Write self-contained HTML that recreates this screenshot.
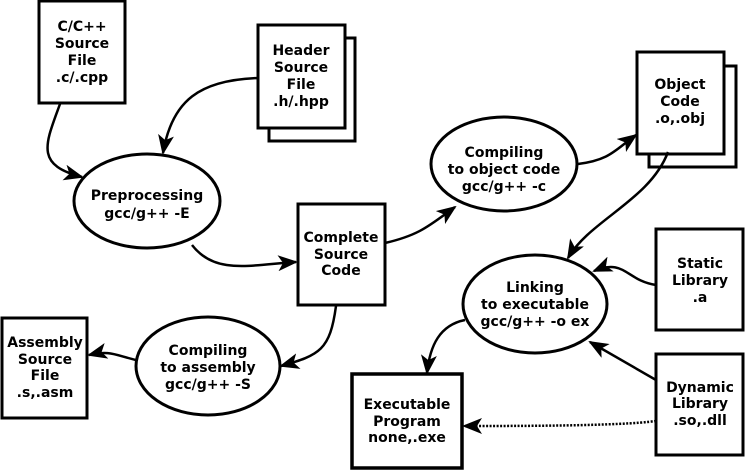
<!DOCTYPE html>
<html><head><meta charset="utf-8"><style>
html,body{margin:0;padding:0;background:#fff;}
svg{display:block;}
text{font-family:"DejaVu Sans","Liberation Sans",sans-serif;font-weight:bold;font-size:14px;text-anchor:middle;dominant-baseline:central;fill:#000;}
</style></head><body>
<svg width="745" height="470" viewBox="0 0 745 470" xmlns="http://www.w3.org/2000/svg">
<defs>
<marker id="a" viewBox="0 0 20 16" refX="18" refY="8" markerWidth="20" markerHeight="16" markerUnits="userSpaceOnUse" orient="auto">
<path d="M0,0 L20,8 L0,16 L5,8 Z" fill="#000"/>
</marker>
</defs>
<g fill="#fff" stroke="#000" stroke-width="3">
<rect x="39" y="1" width="86" height="102"/>
<rect x="269" y="38" width="86" height="103"/>
<rect x="258" y="25" width="87" height="103"/>
<ellipse cx="147" cy="201" rx="73" ry="47"/>
<rect x="298" y="204" width="87" height="101"/>
<ellipse cx="504" cy="164" rx="73" ry="47"/>
<rect x="649" y="66" width="87" height="101"/>
<rect x="637" y="52" width="87" height="102"/>
<ellipse cx="535" cy="304" rx="72" ry="49"/>
<rect x="656" y="229" width="87" height="101"/>
<rect x="656" y="354" width="87" height="101"/>
<rect x="352" y="374" width="110" height="94" stroke-width="3.5"/>
<ellipse cx="208" cy="366" rx="72" ry="49"/>
<rect x="2" y="318" width="85" height="100"/>
</g>
<g fill="none" stroke="#000" stroke-width="2.5">
<path d="M60,104 C45,145 35,165 82,177" marker-end="url(#a)"/>
<path d="M258,78 C200,80 172,100 163,153" marker-end="url(#a)"/>
<path d="M192,245 C215,275 250,265 296,262" marker-end="url(#a)"/>
<path d="M385,243 C420,235 430,225 455,207" marker-end="url(#a)"/>
<path d="M578,164 C610,160 615,150 636,135" marker-end="url(#a)"/>
<path d="M668,152 C650,200 590,220 568,258" marker-end="url(#a)"/>
<path d="M656,285 C625,280 625,258 594,271" marker-end="url(#a)"/>
<path d="M656,380 L590,342" marker-end="url(#a)"/>
<path d="M465,320 C440,325 430,345 427,373" marker-end="url(#a)"/>
<path d="M656,421 C620,426 520,426 464,426" stroke-dasharray="2,1.5" marker-end="url(#a)"/>
<path d="M336,306 C330,350 320,355 281,366" marker-end="url(#a)"/>
<path d="M136,360 C115,355 110,350 89,355" marker-end="url(#a)"/>
</g>
<text x="82" y="27">C/C++</text><text x="82" y="44">Source</text><text x="82" y="61">File</text><text x="82" y="78">.c/.cpp</text>
<text x="301" y="51">Header</text><text x="301" y="68">Source</text><text x="301" y="85">File</text><text x="301" y="102">.h/.hpp</text>
<text x="147" y="196">Preprocessing</text><text x="147" y="214">gcc/g++ -E</text>
<text x="341" y="238">Complete</text><text x="341" y="255">Source</text><text x="341" y="271">Code</text>
<text x="504" y="153">Compiling</text><text x="504" y="170">to object code</text><text x="504" y="187">gcc/g++ -c</text>
<text x="680" y="85">Object</text><text x="680" y="102">Code</text><text x="680" y="119">.o,.obj</text>
<text x="535" y="288">Linking</text><text x="535" y="305">to executable</text><text x="535" y="322">gcc/g++ -o ex</text>
<text x="700" y="264">Static</text><text x="700" y="281">Library</text><text x="700" y="298">.a</text>
<text x="700" y="388">Dynamic</text><text x="700" y="404">Library</text><text x="700" y="421">.so,.dll</text>
<text x="407" y="405">Executable</text><text x="407" y="422">Program</text><text x="407" y="438">none,.exe</text>
<text x="208" y="351">Compiling</text><text x="208" y="368">to assembly</text><text x="208" y="385">gcc/g++ -S</text>
<text x="45" y="343">Assembly</text><text x="45" y="360">Source</text><text x="45" y="376">File</text><text x="45" y="393">.s,.asm</text>
</svg>
</body></html>
